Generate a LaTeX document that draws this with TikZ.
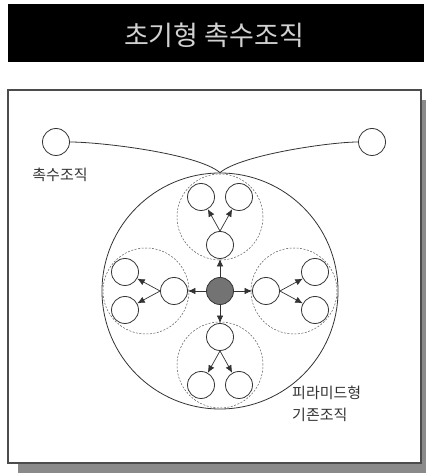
\documentclass[tikz,border=0pt]{standalone}
\usepackage{fontspec}
\usepackage{tikz}
\usetikzlibrary{arrows.meta}
\newfontfamily\kr{Noto Sans CJK KR}

\definecolor{inkgray}{HTML}{333333}
\definecolor{shadegray}{HTML}{8A8A8A}

\tikzset{
  cell/.style={draw=inkgray, line width=0.8pt, circle, fill=white, minimum size=27pt, inner sep=0pt},
  ring/.style={draw=inkgray!80, line width=0.5pt, dash pattern=on 2pt off 1.5pt},
  tag/.style={text=inkgray, font=\kr\fontsize{15}{22}\selectfont, inner sep=0pt}
}

\begin{document}
\begin{tikzpicture}[x=1pt, y=1pt, >={Latex[length=7.5pt,width=6.5pt]}]
            \useasboundingbox (0,0) rectangle (427,473);
            % title bar
            \fill[black] (8,411) rectangle (424,469);
            \node[text=black!18, font=\kr\fontsize{27}{30}\selectfont] (title) at (214,438) {초기형 촉수조직};
            % frame with shadow
            \fill[shadegray] (18,0) rectangle (426,373);
            \draw[fill=white, draw=black!70, line width=1.2pt] (8,10) rectangle (421,383);
            % existing tissue
            \node[draw=inkgray, line width=0.8pt, circle, minimum size=236pt, inner sep=0pt] (tissue) at (220,182) {};
            \draw[ring] (220,256) circle (43);
            \draw[ring] (220,108) circle (43);
            \draw[ring] (146,182) circle (43);
            \draw[ring] (294,182) circle (43);
            \node[cell, fill=black!55] (core) at (220,182) {};
            \node[cell] (n0) at (220,228) {};
            \node[cell] (n1) at (201,276) {};
            \node[cell] (n2) at (239,276) {};
            \node[cell] (s0) at (220,136) {};
            \node[cell] (s1) at (201,88) {};
            \node[cell] (s2) at (239,88) {};
            \node[cell] (w0) at (174,182) {};
            \node[cell] (w1) at (125,201) {};
            \node[cell] (w2) at (125,163) {};
            \node[cell] (e0) at (266,182) {};
            \node[cell] (e1) at (315,201) {};
            \node[cell] (e2) at (315,163) {};
            \draw[->, inkgray, line width=0.7pt] (core) -- (n0);
            \draw[->, inkgray, line width=0.7pt] (core) -- (s0);
            \draw[->, inkgray, line width=0.7pt] (core) -- (w0);
            \draw[->, inkgray, line width=0.7pt] (core) -- (e0);
            \draw[->, inkgray, line width=0.7pt] (n0.north) -- (n1);
            \draw[->, inkgray, line width=0.7pt] (n0.north) -- (n2);
            \draw[->, inkgray, line width=0.7pt] (s0.south) -- (s1);
            \draw[->, inkgray, line width=0.7pt] (s0.south) -- (s2);
            \draw[->, inkgray, line width=0.7pt] (w0.west) -- (w1);
            \draw[->, inkgray, line width=0.7pt] (w0.west) -- (w2);
            \draw[->, inkgray, line width=0.7pt] (e0.east) -- (e1);
            \draw[->, inkgray, line width=0.7pt] (e0.east) -- (e2);
            % tentacles
            \node[cell] (lt) at (56,331) {};
            \node[cell] (rt) at (372,331) {};
            \draw[inkgray, line width=0.8pt] (lt.east) to[out=0, in=140, looseness=0.5] (tissue.north);
            \draw[inkgray, line width=0.8pt] (rt.west) to[out=180, in=40, looseness=0.5] (tissue.north);
            \node[tag] (ltlabel) at (60,298) {촉수조직};
            \node[tag, anchor=west, align=left] (tissuelabel) at (292,69) {피라미드형\\기존조직};
        \end{tikzpicture}
\end{document}
